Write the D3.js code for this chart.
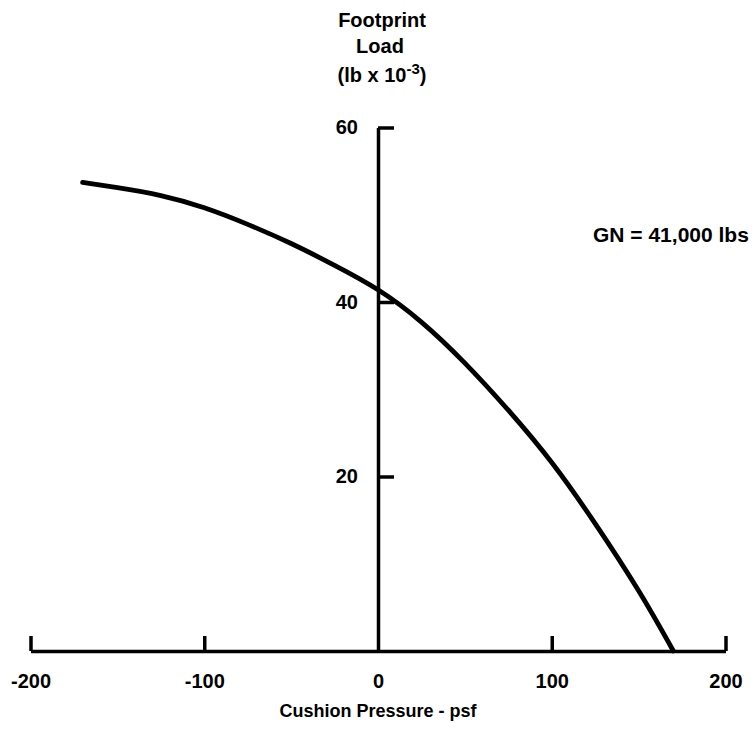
<!DOCTYPE html>
<html>
<head>
<meta charset="utf-8">
<script src="https://cdn.jsdelivr.net/npm/d3@7"></script>
<style>
  html, body { margin: 0; padding: 0; background: #fff; }
  svg { display: block; }
  text { font-family: "Liberation Sans", Arial, sans-serif; font-weight: bold; fill: #000; }
</style>
</head>
<body>
<svg id="chart" width="754" height="730"></svg>
<script>
// Footprint load vs. cushion pressure
const pressure = [-170, -150, -125, -100, -75, -50, -25, 0, 25, 50, 75, 100, 125, 150, 170];
const load     = [53.7, 53.1, 52.2, 50.8, 48.9, 46.7, 44.2, 41.4, 37.7, 33.0, 27.6, 21.6, 14.6, 6.9, 0];

const xTicks = [-200, -100, 0, 100, 200];
const yTicks = [20, 40, 60];
const yTitle = ["Footprint", "Load"];
const note = "GN = 41,000 lbs";
const xTitle = "Cushion Pressure - psf";

const svg = d3.select("#chart");

const x = d3.scaleLinear().domain([-200, 200]).range([30.5, 725.5]);
const y = d3.scaleLinear().domain([0, 60]).range([651, 127.5]);

// horizontal axis with upward ticks
const xAxis = d3.axisBottom(x)
  .tickValues(xTicks)
  .tickSizeInner(-15)
  .tickSizeOuter(0)
  .tickPadding(37)
  .tickFormat(d => d);

const gx = svg.append("g")
  .attr("transform", `translate(0,${y(0)})`)
  .call(xAxis);
gx.select(".domain").attr("stroke", "#000").attr("stroke-width", 3.5);
gx.selectAll(".tick line")
  .attr("stroke", "#000").attr("stroke-width", 3.5)
  .attr("opacity", d => d === 0 ? 0 : 1);
gx.selectAll(".tick text")
  .attr("font-size", 20)
  .attr("font-family", "Liberation Sans, Arial, sans-serif")
  .attr("font-weight", "bold")
  .attr("dy", 0)
  .attr("y", 37);

// vertical axis at zero pressure, ticks pointing right
const yAxis = d3.axisLeft(y)
  .tickValues(yTicks)
  .tickSizeInner(-16)
  .tickSizeOuter(0)
  .tickPadding(20);

const gy = svg.append("g")
  .attr("transform", `translate(${x(0)},0)`)
  .call(yAxis);
gy.select(".domain").attr("stroke", "#000").attr("stroke-width", 3.5);
gy.selectAll(".tick line").attr("stroke", "#000").attr("stroke-width", 3.5);
gy.selectAll(".tick text")
  .attr("font-size", 20)
  .attr("font-family", "Liberation Sans, Arial, sans-serif")
  .attr("font-weight", "bold");

// load curve
const line = d3.line()
  .x((d, i) => x(pressure[i]))
  .y(d => y(d))
  .curve(d3.curveNatural);

svg.append("path")
  .datum(load)
  .attr("d", line)
  .attr("fill", "none")
  .attr("stroke", "#000")
  .attr("stroke-width", 4.8)
  .attr("stroke-linecap", "round")
  .attr("stroke-linejoin", "round");

// axis titles
const cx = x(0) + 4;
svg.append("text").attr("x", cx).attr("y", 27)
  .attr("text-anchor", "middle").attr("font-size", 20).text(yTitle[0]);
svg.append("text").attr("x", cx - 2).attr("y", 53)
  .attr("text-anchor", "middle").attr("font-size", 20).text(yTitle[1]);
const unit = svg.append("text").attr("x", cx).attr("y", 82)
  .attr("text-anchor", "middle").attr("font-size", 20);
unit.append("tspan").text("(lb x 10");
unit.append("tspan").attr("font-size", 15).attr("dy", -8).text("-3");
unit.append("tspan").attr("dy", 8).text(")");

svg.append("text").attr("x", 593).attr("y", 242)
  .attr("font-size", 21).text(note);

svg.append("text").attr("x", x(0)).attr("y", 717)
  .attr("text-anchor", "middle").attr("font-size", 18).text(xTitle);
</script>
</body>
</html>
